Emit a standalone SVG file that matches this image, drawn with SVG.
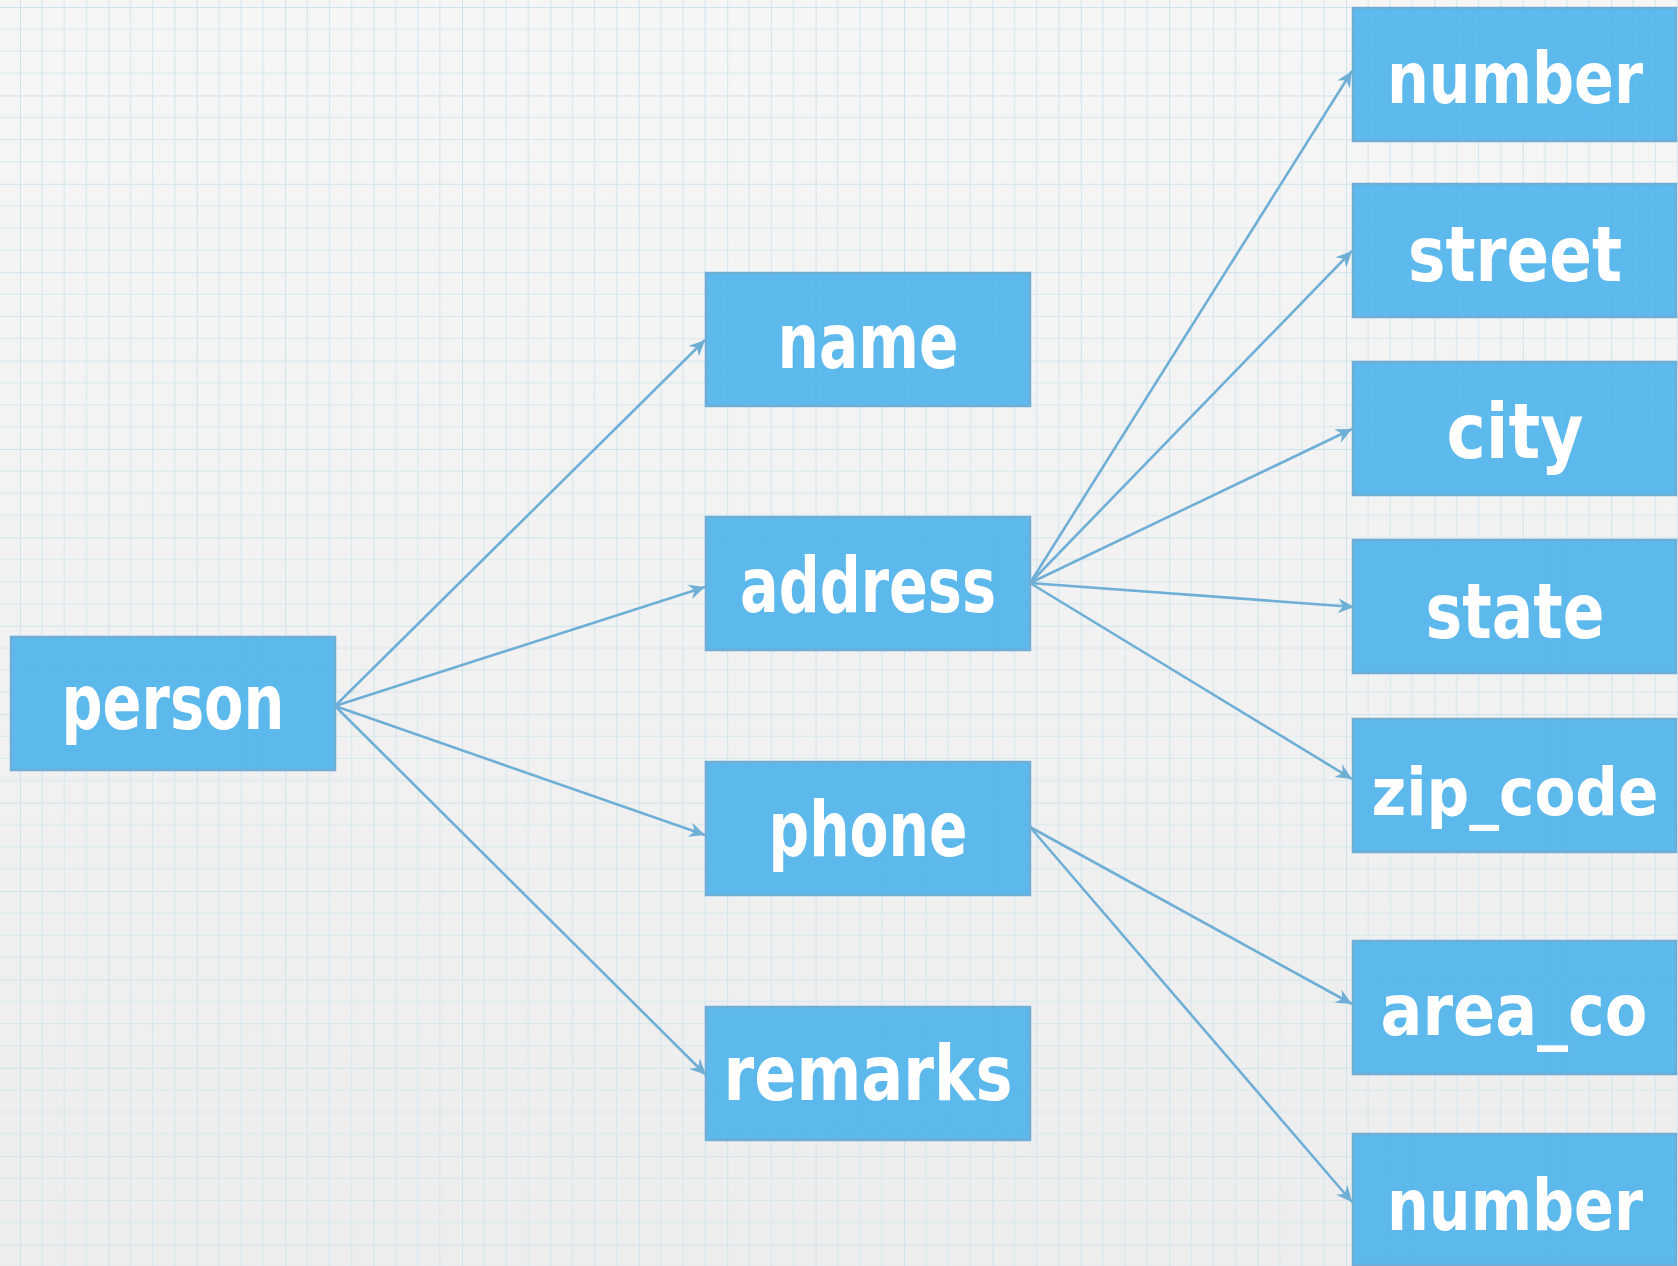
<svg xmlns="http://www.w3.org/2000/svg" width="1678" height="1266" viewBox="0 0 1678 1266">
<defs>
<linearGradient id="bg" x1="0" y1="0" x2="0" y2="1">
<stop offset="0" stop-color="#F6F6F6"/>
<stop offset="1" stop-color="#EDEDED"/>
</linearGradient>
<pattern id="grid" x="20" y="7" width="88.4" height="88.4" patternUnits="userSpaceOnUse">
<g stroke="#D6E7EE" fill="none">
<path d="M0,0V88.4M22.1,0V88.4M44.2,0V88.4M66.3,0V88.4M0,0H88.4M0,22.1H88.4M0,44.2H88.4M0,66.3H88.4" stroke-width="1.2"/>
<path d="M0,0V88.4M0,0H88.4" stroke-width="2" stroke="#CFE3EC"/>
</g>
</pattern>
<marker id="arr" viewBox="-16 -8 17 16" refX="0" refY="0" markerWidth="17" markerHeight="16" markerUnits="userSpaceOnUse" orient="auto">
<path d="M0,0 L-16,-7.5 L-11,0 L-16,7.5 Z" fill="#6FAFD6"/>
</marker>
<style>
.box{fill:#52B4EC;fill-opacity:0.93;stroke:#6EAED6;stroke-width:2.5}
.lbl{font-family:"DejaVu Sans Condensed","DejaVu Sans",sans-serif;font-weight:bold;font-size:76px;fill:#FFFFFF;text-anchor:middle}
.rt{font-size:71px}
.sm{font-size:65px}
.con{stroke:#6FAFD6;stroke-width:2.6;fill:none;marker-end:url(#arr)}
</style>
</defs>
<rect width="1678" height="1266" fill="url(#bg)"/>
<rect width="1678" height="1266" fill="url(#grid)"/>
<g id="connectors">
<line class="con" x1="335" y1="706" x2="705" y2="340"/>
<line class="con" x1="335" y1="706" x2="705" y2="587"/>
<line class="con" x1="335" y1="706" x2="705" y2="835"/>
<line class="con" x1="335" y1="706" x2="706" y2="1075"/>
<line class="con" x1="1030" y1="583" x2="1352" y2="71"/>
<line class="con" x1="1030" y1="583" x2="1352" y2="251"/>
<line class="con" x1="1030" y1="583" x2="1352" y2="429"/>
<line class="con" x1="1030" y1="583" x2="1354" y2="607"/>
<line class="con" x1="1030" y1="583" x2="1352" y2="779"/>
<line class="con" x1="1030" y1="827" x2="1352" y2="1004"/>
<line class="con" x1="1030" y1="827" x2="1352" y2="1202"/>
</g>
<g id="person"><rect class="box" x="11" y="637" width="324" height="133"/><text class="lbl" x="173" y="729" textLength="223" lengthAdjust="spacingAndGlyphs">person</text></g>
<g id="name"><rect class="box" x="706" y="273" width="324" height="133"/><text class="lbl" x="868" y="368" textLength="181" lengthAdjust="spacingAndGlyphs">name</text></g>
<g id="address"><rect class="box" x="706" y="517" width="324" height="133"/><text class="lbl" x="868" y="612" textLength="256" lengthAdjust="spacingAndGlyphs">address</text></g>
<g id="phone"><rect class="box" x="706" y="762" width="324" height="133"/><text class="lbl" x="868" y="856" textLength="199" lengthAdjust="spacingAndGlyphs">phone</text></g>
<g id="remarks"><rect class="box" x="706" y="1007" width="324" height="133"/><text class="lbl" x="868" y="1100" textLength="289" lengthAdjust="spacingAndGlyphs">remarks</text></g>
<g id="number1"><rect class="box" x="1353" y="8" width="323" height="133"/><text class="lbl rt" x="1515" y="103" textLength="256" lengthAdjust="spacingAndGlyphs">number</text></g>
<g id="street"><rect class="box" x="1353" y="184" width="323" height="133"/><text class="lbl" x="1515" y="281" textLength="214" lengthAdjust="spacingAndGlyphs">street</text></g>
<g id="city"><rect class="box" x="1353" y="362" width="323" height="133"/><text class="lbl" x="1515" y="458" textLength="137" lengthAdjust="spacingAndGlyphs">city</text></g>
<g id="state"><rect class="box" x="1353" y="540" width="323" height="133"/><text class="lbl" x="1515" y="638" textLength="179" lengthAdjust="spacingAndGlyphs">state</text></g>
<g id="zip_code"><rect class="box" x="1353" y="719" width="323" height="133"/><text class="lbl sm" x="1515" y="815" textLength="287" lengthAdjust="spacingAndGlyphs">zip_code</text></g>
<g id="area_co"><rect class="box" x="1353" y="941" width="323" height="133"/><text class="lbl rt" x="1514" y="1035" textLength="267" lengthAdjust="spacingAndGlyphs">area_co</text></g>
<g id="number2"><rect class="box" x="1353" y="1134" width="323" height="131"/><text class="lbl rt" x="1515" y="1230" textLength="256" lengthAdjust="spacingAndGlyphs">number</text></g>
</svg>
